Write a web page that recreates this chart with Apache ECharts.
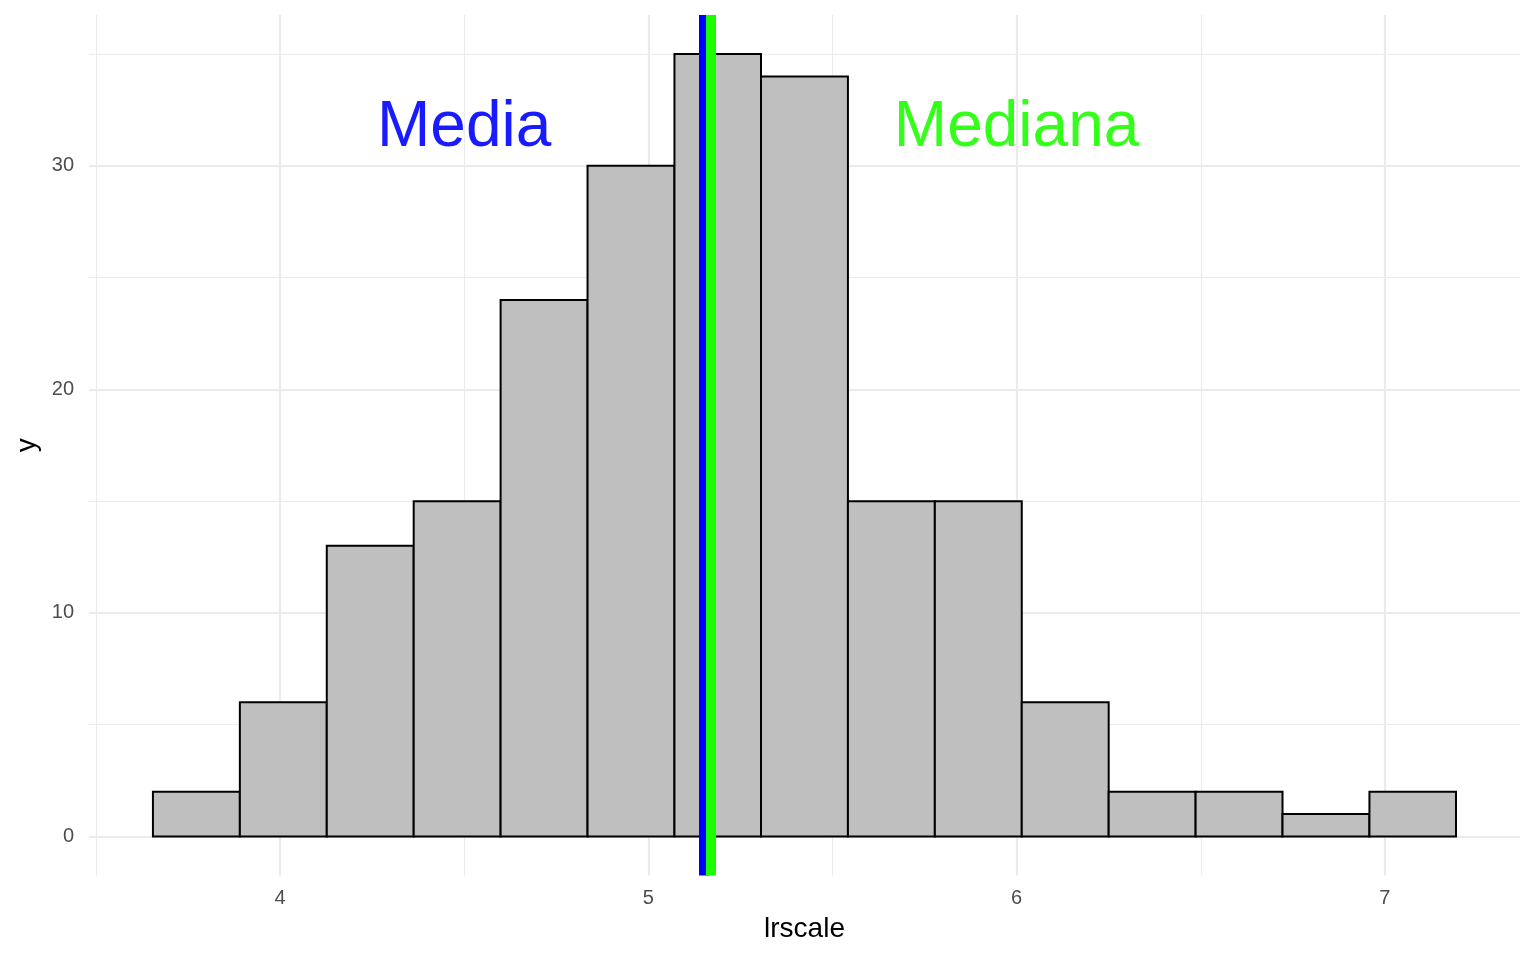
<!DOCTYPE html>
<html>
<head>
<meta charset="utf-8">
<script src="https://cdn.jsdelivr.net/npm/echarts@6/dist/echarts.min.js"></script>
<style>
html,body{margin:0;padding:0;background:#fff;}
#chart{width:1536px;height:960px;}
</style>
</head>
<body>
<div id="chart"></div>
<script>
// ---- data ----
const binEdges = [3.655, 3.891, 4.127, 4.363, 4.599, 4.835, 5.071, 5.306, 5.542, 5.778, 6.014, 6.250, 6.486, 6.722, 6.958, 7.193];
const counts   = [2, 6, 13, 15, 24, 30, 35, 34, 15, 15, 6, 2, 2, 1, 2];
const meanValue = 5.1485;
const medianValue = 5.175;
const xTickLabels = [4, 5, 6, 7];
const yTickLabels = [0, 10, 20, 30];
const xMinorGrid = [3.5, 4.5, 5.5, 6.5];
const yMinorGrid = [5, 15, 25, 35];
const annotations = [
  { text: 'Media', x: 4.5, y: 31.7, color: '#1a1aff' },
  { text: 'Mediana', x: 6.0, y: 31.7, color: '#33ff1a' }
];

// ---- build ----
const bars = counts.map((c, i) => [binEdges[i], binEdges[i + 1], c]);
const xRangeMin = 3.4814, xRangeMax = 7.3668;
const yRangeMin = -1.75, yRangeMax = 36.75;
const FONT = '"Liberation Sans", Arial, Helvetica, sans-serif';
const gridMajor = { color: '#ebebeb', width: 2.2, type: 'solid' };
const gridMinor = { color: '#ebebeb', width: 1.1, type: 'solid' };

const gridLines = []
  .concat(xMinorGrid.map(v => ({ xAxis: v, lineStyle: gridMinor })))
  .concat(yMinorGrid.map(v => ({ yAxis: v, lineStyle: gridMinor })))
  .concat(xTickLabels.map(v => ({ xAxis: v, lineStyle: gridMajor })))
  .concat(yTickLabels.map(v => ({ yAxis: v, lineStyle: gridMajor })));

const chart = echarts.init(document.getElementById('chart'), null, { renderer: 'canvas' });
chart.setOption({
  animation: false,
  backgroundColor: '#ffffff',
  textStyle: { fontFamily: FONT },
  grid: { left: 89, right: 16, top: 15, bottom: 84.5, containLabel: false },
  xAxis: {
    type: 'value', min: xRangeMin, max: xRangeMax,
    name: 'lrscale', nameLocation: 'middle', nameGap: 40,
    nameTextStyle: { color: '#000', fontSize: 28, fontFamily: FONT },
    axisLine: { show: false, onZero: false }, axisTick: { show: false },
    splitLine: { show: false },
    axisLabel: { customValues: xTickLabels, color: '#4d4d4d', fontSize: 20, margin: 13, fontFamily: FONT,
      formatter: v => String(v) }
  },
  yAxis: {
    type: 'value', min: yRangeMin, max: yRangeMax,
    name: 'y', nameLocation: 'middle', nameGap: 45, nameRotate: 90,
    nameTextStyle: { color: '#000', fontSize: 28, fontFamily: FONT },
    axisLine: { show: false, onZero: false }, axisTick: { show: false },
    splitLine: { show: false },
    axisLabel: { customValues: yTickLabels, color: '#4d4d4d', fontSize: 20, margin: 15, fontFamily: FONT,
      formatter: v => String(v) }
  },
  series: [
    {
      type: 'line', data: [], z: 0, silent: true,
      markLine: { z: 0, silent: true, symbol: ['none', 'none'], label: { show: false }, animation: false, data: gridLines }
    },
    {
      type: 'custom', z: 2, data: bars, silent: true,
      renderItem: function (params, api) {
        const p0 = api.coord([api.value(0), 0]);
        const p1 = api.coord([api.value(1), api.value(2)]);
        return {
          type: 'rect',
          shape: { x: p0[0], y: p1[1], width: p1[0] - p0[0], height: p0[1] - p1[1] },
          style: { fill: '#bfbfbf', stroke: '#000000', lineWidth: 2 }
        };
      }
    },
    {
      type: 'line', data: [], z: 3, silent: true,
      markLine: { z: 5, silent: true, symbol: ['none', 'none'], label: { show: false }, animation: false,
        data: [
          { xAxis: meanValue, lineStyle: { color: '#0000ff', width: 10, type: 'solid', opacity: 1 } },
          { xAxis: medianValue, lineStyle: { color: '#1aff00', width: 10, type: 'solid', opacity: 1 } }
        ] }
    },
    {
      type: 'scatter', z: 6, silent: true, symbolSize: 0,
      itemStyle: { opacity: 1 },
      data: annotations.map(a => ({
        value: [a.x, a.y],
        itemStyle: { opacity: 1 },
        label: { show: true, position: 'inside', formatter: a.text, color: a.color, opacity: 1, fontSize: 64, fontFamily: FONT }
      }))
    }
  ]
});
</script>
</body>
</html>
